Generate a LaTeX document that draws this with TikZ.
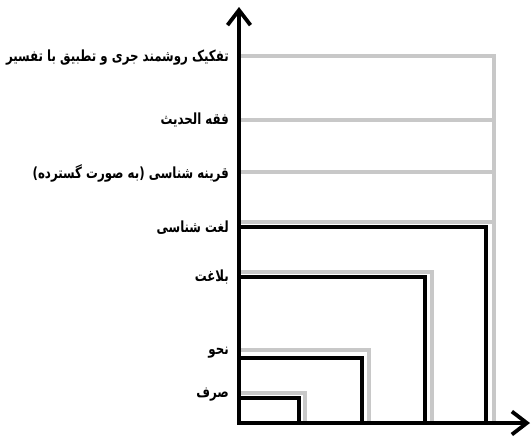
\documentclass[tikz,border=0pt]{standalone}
\usepackage{fontspec}
\TeXXeTstate=1
\newfontfamily\arabicfont[Script=Arabic]{DejaVu Sans}
\usetikzlibrary{arrows.meta}
\definecolor{shadegray}{RGB}{200,200,200}
\newcommand{\farsilabel}[1]{\scalebox{1}[1.3]{\beginR #1\endR}}
\begin{document}
\begin{tikzpicture}[x=1pt,y=-1pt,
  lbl/.style={anchor=east, inner sep=0pt, font=\arabicfont\bfseries\fontsize{11.8}{14}\selectfont},
  grayline/.style={draw=shadegray, line width=3.5pt},
  blackline/.style={draw=black, line width=3.8pt},
  axisline/.style={draw=black, line width=3.8pt, -{Straight Barb[length=15pt,width=23pt]}}]
\useasboundingbox (0,0) rectangle (531,437);
% gray shadows
\draw[grayline] (239,56) -- (494,56) -- (494,423);
\draw[grayline] (239,120) -- (494,120);
\draw[grayline] (239,172) -- (494,172);
\draw[grayline] (239,222) -- (494,222);
\draw[grayline] (239,272) -- (432,272) -- (432,423);
\draw[grayline] (239,350) -- (369,350) -- (369,423);
\draw[grayline] (239,393) -- (305,393) -- (305,423);
% black boxes
\draw[blackline] (239,227) -- (486,227) -- (486,423);
\draw[blackline] (239,277) -- (425,277) -- (425,423);
\draw[blackline] (239,358) -- (362,358) -- (362,423);
\draw[blackline] (239,398) -- (299,398) -- (299,423);
% axes
\coordinate (origin) at (239,423);
\coordinate (ytop) at (239,7);
\coordinate (xend) at (530,423);
\coordinate (xstart) at (237.1,423);
\draw[axisline] (origin) -- (ytop);
\draw[axisline] (xstart) -- (xend);
% labels
\node[lbl] (l1) at (229,58) {\farsilabel{تفکیک روشمند جری و تطبیق با تفسیر}};
\node[lbl] (l2) at (229,120) {\farsilabel{فقه الحدیث}};
\node[lbl] (l3) at (229,173) {\farsilabel{قرینه شناسی (به صورت گسترده)}};
\node[lbl] (l4) at (229,228) {\farsilabel{لغت شناسی}};
\node[lbl] (l5) at (229,277) {\farsilabel{بلاغت}};
\node[lbl] (l6) at (229,353) {\farsilabel{نحو}};
\node[lbl] (l7) at (229,395) {\farsilabel{صرف}};
\end{tikzpicture}
\end{document}
